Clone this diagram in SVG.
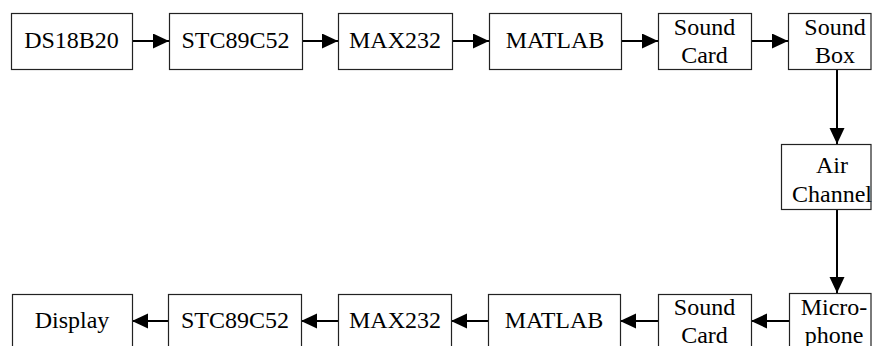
<svg xmlns="http://www.w3.org/2000/svg" width="872" height="346" viewBox="0 0 872 346">
<defs>
<style>
.box{fill:#fff;stroke:#222;stroke-width:1.2}
.t{font-family:'Liberation Serif', serif;font-size:24px;fill:#000;text-anchor:middle}
.c{fill:none;stroke:#000;stroke-width:2}
</style>
<marker id="ah" markerUnits="userSpaceOnUse" markerWidth="18" markerHeight="16" refX="16" refY="7.5" orient="auto">
<path d="M0,0 L16,7.5 L0,15 Z" fill="#000"/>
</marker>
</defs>
<rect width="872" height="346" fill="#fff"/>
<g id="connectors">
<line class="c" x1="132" y1="41" x2="169" y2="41" marker-end="url(#ah)"/>
<line class="c" x1="302" y1="41" x2="338" y2="41" marker-end="url(#ah)"/>
<line class="c" x1="452" y1="41" x2="489" y2="41" marker-end="url(#ah)"/>
<line class="c" x1="621" y1="41" x2="658" y2="41" marker-end="url(#ah)"/>
<line class="c" x1="751" y1="41" x2="788" y2="41" marker-end="url(#ah)"/>
<line class="c" x1="837" y1="69" x2="837" y2="144" marker-end="url(#ah)"/>
<line class="c" x1="837" y1="209" x2="837" y2="293" marker-end="url(#ah)"/>
<line class="c" x1="789" y1="321" x2="751" y2="321" marker-end="url(#ah)"/>
<line class="c" x1="658" y1="321" x2="620" y2="321" marker-end="url(#ah)"/>
<line class="c" x1="488" y1="321" x2="451" y2="321" marker-end="url(#ah)"/>
<line class="c" x1="338" y1="321" x2="301" y2="321" marker-end="url(#ah)"/>
<line class="c" x1="168" y1="321" x2="132" y2="321" marker-end="url(#ah)"/>
</g>
<g id="ds18b20"><rect class="box" x="11.5" y="13.5" width="121" height="56"/><text class="t" x="71.5" y="48">DS18B20</text></g>
<g id="stc1"><rect class="box" x="169.5" y="13.5" width="133" height="56"/><text class="t" x="235.5" y="48">STC89C52</text></g>
<g id="max1"><rect class="box" x="338.5" y="13.5" width="114" height="56"/><text class="t" x="395" y="48">MAX232</text></g>
<g id="matlab1"><rect class="box" x="489.5" y="13.5" width="132" height="56"/><text class="t" x="555" y="48">MATLAB</text></g>
<g id="soundcard1"><rect class="box" x="658.5" y="13.5" width="93" height="56"/><text class="t" x="704.5" y="35">Sound</text><text class="t" x="704.5" y="63">Card</text></g>
<g id="soundbox"><rect class="box" x="788.5" y="13.5" width="82.5" height="56"/><text class="t" x="835" y="35">Sound</text><text class="t" x="835" y="63">Box</text></g>
<g id="airchannel"><rect class="box" x="781.5" y="144.5" width="89.5" height="65"/><text class="t" x="832" y="173">Air</text><text class="t" x="832" y="202">Channel</text></g>
<g id="microphone"><rect class="box" x="789.5" y="293.5" width="81.5" height="60"/><text class="t" x="834" y="315">Micro-</text><text class="t" x="834" y="343">phone</text></g>
<g id="soundcard2"><rect class="box" x="658.5" y="294.5" width="93" height="60"/><text class="t" x="704.5" y="315">Sound</text><text class="t" x="704.5" y="343">Card</text></g>
<g id="matlab2"><rect class="box" x="488.5" y="294.5" width="132" height="60"/><text class="t" x="554" y="328">MATLAB</text></g>
<g id="max2"><rect class="box" x="338.5" y="294.5" width="113" height="60"/><text class="t" x="395" y="328">MAX232</text></g>
<g id="stc2"><rect class="box" x="168.5" y="294.5" width="133" height="60"/><text class="t" x="235" y="328">STC89C52</text></g>
<g id="display"><rect class="box" x="12.5" y="294.5" width="120" height="60"/><text class="t" x="72" y="328">Display</text></g>
</svg>
